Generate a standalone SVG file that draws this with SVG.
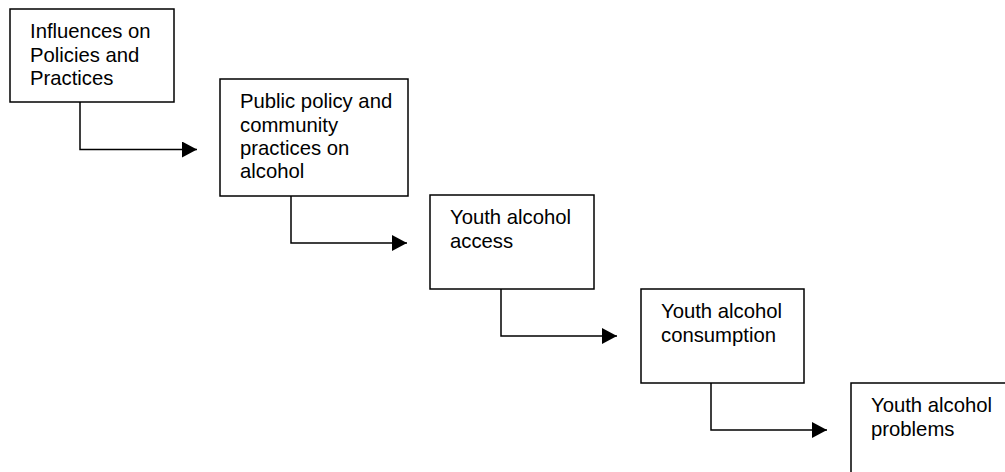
<svg xmlns="http://www.w3.org/2000/svg" width="1005" height="472" viewBox="0 0 1005 472">
<style>
.box{fill:#fff;stroke:#000;stroke-width:1.5}
.lbl{font-family:"Liberation Sans",Arial,sans-serif;font-size:20.3px;fill:#000}
.conn{fill:none;stroke:#000;stroke-width:1.5}
</style>
<defs>
<marker id="arr" viewBox="0 0 15 16" refX="15" refY="8" markerWidth="15" markerHeight="16" markerUnits="userSpaceOnUse" orient="auto">
<path d="M0,0 L15,8 L0,16 Z" fill="#000"/>
</marker>
</defs>
<g id="connectors">
<path class="conn" d="M80,102 V149.5 H197" marker-end="url(#arr)"/>
<path class="conn" d="M291,196 V243 H407" marker-end="url(#arr)"/>
<path class="conn" d="M501,289 V336 H617" marker-end="url(#arr)"/>
<path class="conn" d="M711,383 V430 H827" marker-end="url(#arr)"/>
</g>
<g id="n1">
<rect class="box" x="10" y="9" width="164" height="93"/>
<text class="lbl"><tspan x="30" y="38">Influences on</tspan><tspan x="30" y="61.5">Policies and</tspan><tspan x="30" y="85">Practices</tspan></text>
</g>
<g id="n2">
<rect class="box" x="220" y="79" width="188" height="117"/>
<text class="lbl"><tspan x="240" y="108">Public policy and</tspan><tspan x="240" y="131.5">community</tspan><tspan x="240" y="155">practices on</tspan><tspan x="240" y="178">alcohol</tspan></text>
</g>
<g id="n3">
<rect class="box" x="430" y="195" width="164" height="94"/>
<text class="lbl"><tspan x="450" y="224">Youth alcohol</tspan><tspan x="450" y="247.5">access</tspan></text>
</g>
<g id="n4">
<rect class="box" x="641" y="289" width="163" height="94"/>
<text class="lbl"><tspan x="661" y="318">Youth alcohol</tspan><tspan x="661" y="341.5">consumption</tspan></text>
</g>
<g id="n5">
<rect class="box" x="851" y="383" width="164" height="100"/>
<text class="lbl"><tspan x="871" y="412">Youth alcohol</tspan><tspan x="871" y="435.5">problems</tspan></text>
</g>
</svg>
